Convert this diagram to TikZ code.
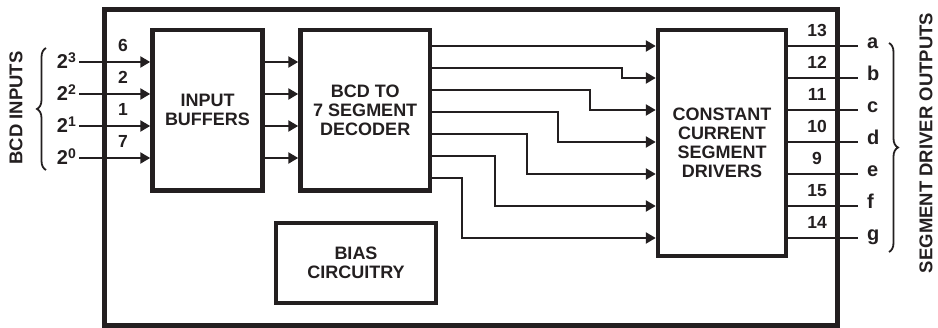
\documentclass[tikz,border=0pt]{standalone}
\usepackage{fontspec}
\setmainfont{Liberation Sans}
\usepackage{tikz}
\usetikzlibrary{arrows.meta,decorations.pathreplacing,positioning}
\definecolor{ink}{RGB}{35,31,32}
\newcommand{\pw}[1]{2\raisebox{6.5pt}{\fontsize{14}{14}\selectfont #1}}

\begin{document}
\begin{tikzpicture}[x=1pt, y=-1pt, >={Triangle[length=10pt,width=11pt]},
    block/.style={draw=ink, line width=4.5pt, text=ink, align=center, inner sep=0pt,
        font=\bfseries\fontsize{18}{19}\selectfont},
    wire/.style={draw=ink, line width=2.7pt},
    pinno/.style={text=ink, inner sep=0pt, anchor=base, font=\bfseries\fontsize{17.5}{17.5}\selectfont},
    sig/.style={text=ink, inner sep=1pt, font=\bfseries\fontsize{20}{20}\selectfont},
    side/.style={text=ink, rotate=90, font=\bfseries\fontsize{18.5}{19}\selectfont},
    curly/.style={draw=ink, line width=1.8pt, decorate, decoration={brace, amplitude=9pt}}]
    \useasboundingbox (0,0) rectangle (938,328);

    \node[block, line width=5pt, minimum width=732.5pt, minimum height=316pt] (chip) at (470.75,168) {};
    \node[block, minimum width=110pt, minimum height=160.5pt] (buf) at (207.5,110.25) {INPUT\\BUFFERS};
    \node[block, minimum width=129.5pt, minimum height=160.5pt] (dec) at (365.25,110.25) {BCD TO\\7 SEGMENT\\DECODER};
    \node[block, minimum width=128pt, minimum height=226pt] (drv) at (722,143) {CONSTANT\\CURRENT\\SEGMENT\\DRIVERS};
    \node[block, minimum width=160pt, minimum height=80pt] (bias) at (356,263) {BIAS\\CIRCUITRY};

    % BCD inputs
    \foreach \y/\p/\e [count=\i] in {62/6/3, 94/2/2, 126/1/1, 158/7/0} {
        \coordinate (in\i) at (79,\y);
        \node[sig, anchor=base east] (bit\i) at (77,\y+7) {\pw{\e}};
        \node[pinno] (ip\i) at (123,\y-10) {\p};
        \draw[wire, ->] (in\i) -- (in\i -| buf.west);
        \draw[wire, ->] (buf.east |- in\i) -- (dec.west |- in\i);
    }

    % decoder to drivers
    \foreach \a/\b/\x in {46/46/550, 68/78/622, 90/110/590, 112/142/558, 134/174/527, 156/206/495, 178/238/462}
        \draw[wire, ->] (dec.east |- 0,\a) -| (\x,\b) -- (drv.west |- 0,\b);

    % segment outputs
    \foreach \y/\p/\s in {46/13/a, 78/12/b, 110/11/c, 142/10/d, 174/9/e, 206/15/f, 238/14/g} {
        \coordinate (out\s) at (858,\y);
        \draw[wire] (drv.east |- out\s) -- (out\s);
        \node[pinno] (op\s) at (817,\y-9) {\p};
        \node[sig, anchor=mid west] (seg\s) at (866,\y) {\s};
    }

    \draw[curly] (46,170) -- (46,48);
    \draw[curly] (889,43) -- (889,252);
    \node[side] (bcdin) at (16,108) {BCD INPUTS};
    \node[side] (segout) at (926,143) {SEGMENT DRIVER OUTPUTS};
\end{tikzpicture}
\end{document}
